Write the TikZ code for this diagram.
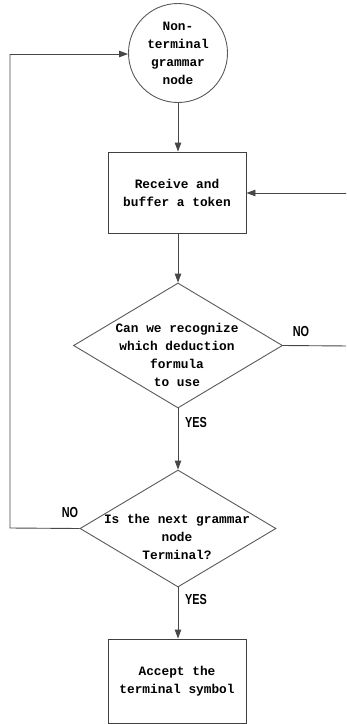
\documentclass[tikz,border=0pt]{standalone}
\usepackage{fontspec}
\setmonofont{Liberation Mono}
\newfontfamily\lblfont[FakeStretch=0.75]{Liberation Sans}
\usetikzlibrary{shapes.geometric,arrows.meta}
\begin{document}
\begin{tikzpicture}[x=1pt,y=-1pt,
  line width=0.9pt,
  every node/.style={font=\ttfamily\bfseries\fontsize{12.8}{18}\selectfont, align=center, inner sep=0pt},
  ln/.style={draw=black!72},
  arr/.style={ln,-{Triangle[length=9pt,width=6.5pt]}},
  roundnode/.style={circle, draw=black!65, minimum size=99pt},
  boxnode/.style={rectangle, draw=black!75, minimum width=138pt},
  dia/.style={diamond, draw=black!65},
  lbl/.style={font=\lblfont\bfseries\fontsize{14.5}{16}\selectfont}
]
\useasboundingbox (0,0) rectangle (346,724);
\clip (0,0) rectangle (346,724);
\node[roundnode] (c) at (178,53) {};
\node (ct) at (178,53) {Non-\\terminal\\grammar\\node};
\node[boxnode, minimum height=81pt] (b1) at (177,192.5) {Receive and\\buffer a token};
\node[dia, minimum width=209pt, minimum height=125pt] (d1) at (178,345.5) {};
\node (d1t) at (177,355) {Can we recognize\\which deduction\\formula\\to use};
\node[dia, minimum width=196pt, minimum height=117pt] (d2) at (178,528.5) {};
\node (d2t) at (177,537) {Is the next grammar\\node\\Terminal?};
\node[boxnode, minimum height=84pt] (b2) at (177,681) {Accept the\\terminal symbol};
\node[lbl] (no1) at (301,332) {NO};
\node[lbl] (yes1) at (196,423) {YES};
\node[lbl] (no2) at (70,512) {NO};
\node[lbl] (yes2) at (196,599) {YES};
\coordinate (r1) at (350,346);
\coordinate (r2) at (350,193);
\coordinate (l1) at (10,528);
\coordinate (l2) at (10,54);
\draw[arr] (c.south) -- (c.south |- b1.north);
\draw[arr] (b1.south -| d1.north) -- (d1.north);
\draw[arr] (d1.south) -- (d2.north);
\draw[arr] (d2.south) -- (d2.south |- b2.north);
\draw[ln] (d1.east) -- (r1) -- (r2);
\draw[arr] (r2) -- (b1.east |- r2);
\draw[ln] (d2.west) -- (l1) -- (l2);
\draw[arr] (l2) -- (c.west |- l2);
\end{tikzpicture}
\end{document}
